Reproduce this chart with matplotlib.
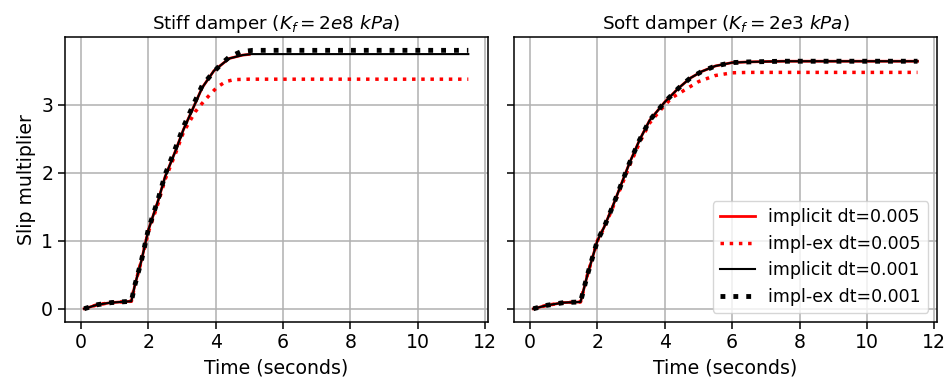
import matplotlib
matplotlib.use("Agg")
import matplotlib.pyplot as plt

# ---- Stiff damper (left) ----
stiff_t_imp = [0.1, 0.5, 0.9, 1.5, 1.6, 1.8, 2.0, 2.3, 2.5, 2.8, 3.05, 3.35, 3.6, 3.95, 4.4, 4.8, 5.05, 11.5]
stiff_y_imp = [0.0, 0.06, 0.09, 0.11, 0.34, 0.71, 1.15, 1.6, 1.94, 2.31, 2.64, 2.97, 3.25, 3.5, 3.68, 3.73, 3.745, 3.745]

stiff_t_imp005 = [0.1, 0.5, 0.9, 1.5, 1.6, 1.8, 2.0, 2.3, 2.5, 2.8, 3.05, 3.35, 3.6, 3.95, 4.4, 4.8, 5.0]
stiff_y_imp005 = [0.0, 0.06, 0.09, 0.11, 0.34, 0.71, 1.15, 1.6, 1.94, 2.31, 2.64, 2.97, 3.25, 3.5, 3.68, 3.73, 3.74]

stiff_t_ex005 = [0.1, 0.5, 0.9, 1.5, 1.6, 1.8, 2.0, 2.3, 2.5, 2.8, 3.05, 3.4, 3.65, 3.85, 4.05, 4.3, 4.55, 5.0, 11.5]
stiff_y_ex005 = [0.0, 0.06, 0.09, 0.11, 0.34, 0.71, 1.12, 1.56, 1.9, 2.27, 2.6, 2.9, 3.05, 3.16, 3.26, 3.34, 3.37, 3.376, 3.376]

stiff_t_ex001 = [0.1, 0.5, 0.9, 1.5, 1.6, 1.8, 2.0, 2.3, 2.5, 2.8, 3.05, 3.35, 3.6, 3.9, 4.15, 4.4, 4.75, 5.1, 11.5]
stiff_y_ex001 = [0.0, 0.06, 0.09, 0.11, 0.34, 0.71, 1.16, 1.62, 1.97, 2.35, 2.68, 3.01, 3.28, 3.46, 3.59, 3.70, 3.78, 3.80, 3.80]

# ---- Soft damper (right) ----
soft_t_imp = [0.1, 0.5, 1.0, 1.5, 1.7, 2.0, 2.2, 2.45, 2.7, 2.95, 3.25, 3.55, 3.85, 4.0, 4.4, 4.75, 5.1, 5.5, 6.0, 6.5, 7.5, 11.5]
soft_y_imp = [0.0, 0.05, 0.09, 0.10, 0.49, 1.0, 1.2, 1.5, 1.82, 2.14, 2.48, 2.77, 2.95, 3.04, 3.24, 3.39, 3.49, 3.57, 3.62, 3.63, 3.64, 3.64]

soft_t_ex005 = [0.1, 0.5, 1.0, 1.5, 1.7, 2.0, 2.2, 2.45, 2.7, 2.95, 3.25, 3.55, 3.85, 4.0, 4.2, 4.6, 5.0, 5.5, 6.0, 6.5, 11.5]
soft_y_ex005 = [0.0, 0.05, 0.09, 0.10, 0.49, 1.0, 1.19, 1.48, 1.79, 2.1, 2.44, 2.73, 2.91, 2.99, 3.1, 3.22, 3.34, 3.43, 3.47, 3.476, 3.476]

labels = ["implicit dt=0.005", "impl-ex dt=0.005", "implicit dt=0.001", "impl-ex dt=0.001"]
titles = ["Stiff damper ($K_f=2e8\\ kPa$)", "Soft damper ($K_f=2e3\\ kPa$)"]

FS = 13.6

fig, axes = plt.subplots(1, 2, figsize=(9.5, 3.82), dpi=100, sharey=True)
fig.subplots_adjust(left=0.0684, right=0.986, bottom=0.158, top=0.902, wspace=0.063)

ax = axes[0]
ax.plot(stiff_t_imp005, stiff_y_imp005, color="red", lw=2, ls="-", label=labels[0])
ax.plot(stiff_t_ex005, stiff_y_ex005, color="red", lw=2.5, ls=":", label=labels[1])
ax.plot(stiff_t_imp, stiff_y_imp, color="black", lw=1.5, ls="-", label=labels[2])
ax.plot(stiff_t_ex001, stiff_y_ex001, color="black", lw=3.5, ls=":", label=labels[3])
ax.set_title(titles[0], fontsize=13.2)
ax.set_xlabel("Time (seconds)", fontsize=FS)
ax.set_ylabel("Slip multiplier", fontsize=FS)
ax.grid(True, lw=1.1)

ax = axes[1]
ax.plot(soft_t_imp, soft_y_imp, color="red", lw=2, ls="-", label=labels[0])
ax.plot(soft_t_ex005, soft_y_ex005, color="red", lw=2.5, ls=":", label=labels[1])
ax.plot(soft_t_imp, soft_y_imp, color="black", lw=1.5, ls="-", label=labels[2])
ax.plot(soft_t_imp, soft_y_imp, color="black", lw=3.5, ls=":", label=labels[3])
ax.set_title(titles[1], fontsize=13.2)
ax.set_xlabel("Time (seconds)", fontsize=FS)
ax.grid(True, lw=1.1)
ax.legend(loc="lower right", fontsize=12.5)

for a in axes:
    a.set_xlim(-0.47, 12.07)
    a.set_ylim(-0.19, 3.99)
    a.set_xticks([0, 2, 4, 6, 8, 10, 12])
    a.set_yticks([0, 1, 2, 3])
    a.tick_params(labelsize=FS, length=5, width=1.1)
    for s in a.spines.values():
        s.set_linewidth(1.1)

fig.savefig("out.png", dpi=100)
